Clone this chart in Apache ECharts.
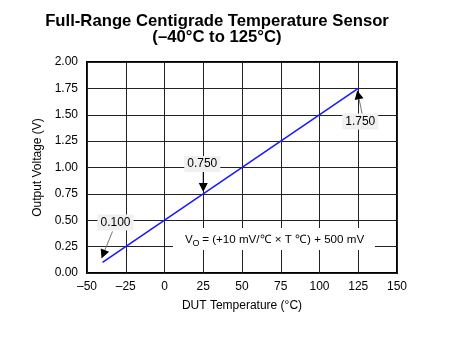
<!DOCTYPE html>
<html>
<head>
<meta charset="utf-8">
<script src="https://cdn.jsdelivr.net/npm/echarts@6/dist/echarts.min.js"></script>
<style>
  html, body { margin: 0; padding: 0; background: #fff; }
  #chart { width: 455px; height: 346px; }
</style>
</head>
<body>
<div id="chart"></div>
<script>
// Sensor transfer line endpoints
const tempC = [-40, 125];
const outputV = [0.100, 1.750];

// Callout points (temperature, output voltage)
const calloutTemp = [-40, 25, 125];
const calloutVolt = [0.100, 0.750, 1.750];

// Axis ranges
const xMin = -50, xMax = 150, xStep = 25;
const yMin = 0, yMax = 2, yStep = 0.25;

const titleLines = ['Full-Range Centigrade Temperature Sensor', '(\u201340\u00B0C to 125\u00B0C)'];

const FONT = 'Arial, "Liberation Sans", sans-serif';

const chart = echarts.init(document.getElementById('chart'), null, { renderer: 'canvas' });

const option = {
  animation: false,
  backgroundColor: '#fff',
  grid: { left: 87, right: 58, top: 62, bottom: 73, show: true, borderColor: '#000', borderWidth: 2, backgroundColor: 'transparent' },
  xAxis: {
    type: 'value', min: xMin, max: xMax, interval: xStep,
    name: 'DUT Temperature (\u00B0C)', nameLocation: 'middle', nameGap: 27,
    nameTextStyle: { fontFamily: FONT, fontSize: 12, color: '#000' },
    axisLine: { show: false }, axisTick: { show: false },
    axisLabel: { fontFamily: FONT, fontSize: 12, color: '#000', margin: 8,
      formatter: v => String(v).replace('-', '\u2013') },
    splitLine: { show: true, lineStyle: { color: '#222', width: 1 } }
  },
  yAxis: {
    type: 'value', min: yMin, max: yMax, interval: yStep,
    name: 'Output Voltage (V)', nameLocation: 'middle', nameGap: 43,
    nameTextStyle: { fontFamily: FONT, fontSize: 12, color: '#000' },
    axisLine: { show: false }, axisTick: { show: false },
    axisLabel: { fontFamily: FONT, fontSize: 12, color: '#000', margin: 9,
      formatter: v => v.toFixed(2) },
    splitLine: { show: true, lineStyle: { color: '#222', width: 1 } }
  },
  series: [{
    type: 'line',
    data: tempC.map((t, i) => [t, outputV[i]]),
    showSymbol: false,
    lineStyle: { color: '#1a1aff', width: 1.6 },
    z: 5
  }]
};
chart.setOption(option);

// Callout label offsets (label centre relative to the point, and arrow start / tip offsets)
const calloutLayout = [
  { label: [13, -40], from: [10, -31], tip: [-1, -4] },
  { label: [-1, -30], from: [0, -23], tip: [0, -2] },
  { label: [2, 33], from: [4, 26], tip: [-1, 2] }
];

function arrowHead(x1, y1, x2, y2, len, half) {
  const dx = x2 - x1, dy = y2 - y1;
  const d = Math.hypot(dx, dy) || 1;
  const ux = dx / d, uy = dy / d;
  const bx = x2 - ux * len, by = y2 - uy * len;
  return [[x2, y2], [bx - uy * half, by + ux * half], [bx + uy * half, by - ux * half]];
}

const graphics = [];

// Two-line bold title
titleLines.forEach((line, i) => {
  graphics.push({
    type: 'text', z: 30, x: 217, y: 21.5 + i * 15.5,
    style: { text: line, fontFamily: FONT, fontSize: 16.7, fontWeight: 'bold', fill: '#000',
      align: 'center', verticalAlign: 'middle' }
  });
});

calloutTemp.forEach((t, i) => {
  const p = chart.convertToPixel({ gridIndex: 0 }, [t, calloutVolt[i]]);
  const L = calloutLayout[i];
  const cx = p[0] + L.label[0], cy = p[1] + L.label[1];
  const fx = p[0] + L.from[0], fy = p[1] + L.from[1];
  const tx = p[0] + L.tip[0], ty = p[1] + L.tip[1];
  const head = arrowHead(fx, fy, tx, ty, 9, 4.5);
  const d = Math.hypot(tx - fx, ty - fy);
  const bx = tx - (tx - fx) / d * 8;
  const by = ty - (ty - fy) / d * 8;
  graphics.push({
    type: 'line', z: 20,
    shape: { x1: fx, y1: fy, x2: bx, y2: by },
    style: { stroke: i === 1 ? '#000' : '#777', lineWidth: 1 }
  });
  graphics.push({
    type: 'polygon', z: 21,
    shape: { points: head },
    style: { fill: '#000' }
  });
  graphics.push({
    type: 'rect', z: 22,
    shape: { x: cx - 18, y: cy - 8, width: 36, height: 16 },
    style: { fill: '#f0f0f0' }
  });
  graphics.push({
    type: 'text', z: 23,
    x: cx, y: cy,
    style: { text: calloutVolt[i].toFixed(3), fontFamily: FONT, fontSize: 12, fill: '#000',
      align: 'center', verticalAlign: 'middle' }
  });
});

// Transfer function annotation
const eqX = 185, eqY = 240;
graphics.push({
  type: 'rect', z: 24,
  shape: { x: 173, y: 228, width: 202, height: 22 },
  style: { fill: '#fff' }
});
graphics.push({
  type: 'text', z: 25, x: eqX, y: eqY,
  style: { text: 'V', fontFamily: FONT, fontSize: 11.6, fill: '#000', align: 'left', verticalAlign: 'middle' }
});
graphics.push({
  type: 'text', z: 25, x: eqX + 7.5, y: eqY + 4,
  style: { text: 'O', fontFamily: FONT, fontSize: 9, fill: '#000', align: 'left', verticalAlign: 'middle' }
});
graphics.push({
  type: 'text', z: 25, x: eqX + 14, y: eqY,
  style: { text: ' = (+10 mV/\u2103 \u00D7 T \u2103) + 500 mV', fontFamily: FONT, fontSize: 11.6, fill: '#000',
    align: 'left', verticalAlign: 'middle' }
});

chart.setOption({ graphic: graphics });
</script>
</body>
</html>
